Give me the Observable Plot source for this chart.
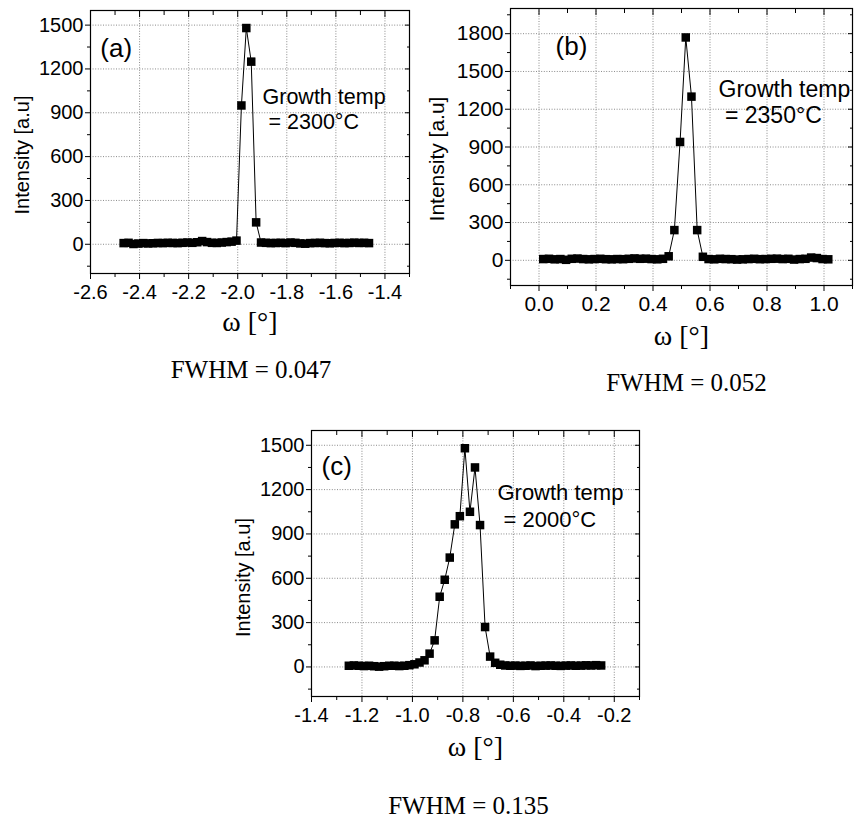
<!DOCTYPE html>
<html><head><meta charset="utf-8">
<script src="https://cdn.jsdelivr.net/npm/d3@7"></script>
<script src="https://cdn.jsdelivr.net/npm/@observablehq/plot@0.6"></script>
<style>
body{margin:0;background:#fff;}
#root{position:relative;width:854px;height:818px;overflow:hidden;background:#fff;}
.panel{position:absolute;}
</style></head><body><div id="root"></div>
<script>
// ---- Panel (a): growth temp 2300°C ----
const aOmega = [-2.465,-2.445,-2.425,-2.405,-2.385,-2.365,-2.345,-2.325,-2.305,-2.285,-2.265,-2.245,-2.225,-2.205,-2.185,-2.165,-2.145,-2.125,-2.105,-2.085,-2.065,-2.045,-2.025,-2.005,-1.985,-1.965,-1.945,-1.925,-1.905,-1.885,-1.865,-1.845,-1.825,-1.805,-1.785,-1.765,-1.745,-1.725,-1.705,-1.685,-1.665,-1.645,-1.625,-1.605,-1.585,-1.565,-1.545,-1.525,-1.505,-1.485,-1.465];
const aIntensity = [8,10,2,5,8,6,7,9,8,10,9,8,10,12,10,14,22,15,10,9,12,15,18,25,950,1480,1250,150,12,10,8,9,10,8,12,10,6,4,8,9,10,8,7,9,10,8,9,11,9,10,8];
// ---- Panel (b): growth temp 2350°C ----
const bOmega = [0.015,0.035,0.055,0.075,0.095,0.115,0.135,0.155,0.175,0.195,0.215,0.235,0.255,0.275,0.295,0.315,0.335,0.355,0.375,0.395,0.415,0.435,0.455,0.475,0.495,0.515,0.535,0.555,0.575,0.595,0.615,0.635,0.655,0.675,0.695,0.715,0.735,0.755,0.775,0.795,0.815,0.835,0.855,0.875,0.895,0.915,0.935,0.955,0.975,0.995,1.015];
const bIntensity = [10,12,8,10,4,12,14,10,8,10,12,9,8,10,9,12,15,12,13,10,8,12,32,240,940,1770,1300,240,28,10,8,12,10,9,6,8,10,12,9,10,12,13,10,12,6,10,12,22,18,10,8];
// ---- Panel (c): growth temp 2000°C ----
const cOmega = [-1.252,-1.232,-1.212,-1.192,-1.172,-1.152,-1.132,-1.112,-1.092,-1.072,-1.052,-1.032,-1.012,-0.992,-0.972,-0.952,-0.932,-0.912,-0.892,-0.872,-0.852,-0.832,-0.812,-0.792,-0.772,-0.752,-0.732,-0.712,-0.692,-0.672,-0.652,-0.632,-0.612,-0.592,-0.572,-0.552,-0.532,-0.512,-0.492,-0.472,-0.452,-0.432,-0.412,-0.392,-0.372,-0.352,-0.332,-0.312,-0.292,-0.272,-0.252];
const cIntensity = [8,10,8,6,8,5,2,5,8,8,6,8,12,18,30,45,90,180,475,590,740,965,1020,1480,1050,1350,960,270,70,28,15,10,8,9,7,8,10,6,8,9,10,8,7,9,10,8,9,11,10,12,10];

// ---- Ticks ----
const aXTicks = [-2.6,-2.4,-2.2,-2.0,-1.8,-1.6,-1.4];
const aXMinor = [-2.5,-2.3,-2.1,-1.9,-1.7,-1.5,-1.3];
const bXTicks = [0.0,0.2,0.4,0.6,0.8,1.0];
const bXMinor = [-0.1,0.1,0.3,0.5,0.7,0.9,1.1];
const cXTicks = [-1.4,-1.2,-1.0,-0.8,-0.6,-0.4,-0.2];
const cXMinor = [-1.3,-1.1,-0.9,-0.7,-0.5,-0.3,-0.1];
const acYTicks = [0,300,600,900,1200,1500];
const acYMinor = [-150,150,450,750,1050,1350];
const bYTicks = [0,300,600,900,1200,1500,1800];
const bYMinor = [-150,150,450,750,1050,1350,1650,1950];

// ---- Texts ----
const panelLabels = ["(a)","(b)","(c)"];
const growthLine = "Growth temp";
const tempLines = ["\u00a0= 2300°C","\u00a0= 2350°C","\u00a0= 2000°C"];
const fwhmTexts = ["FWHM = 0.047","FWHM = 0.052","FWHM = 0.135"];
const xTitle = "ω [°]";
const yTitle = "Intensity [a.u]";

const SANS = "'Liberation Sans', Arial, Helvetica, sans-serif";
const SERIF = "'Liberation Serif', 'Times New Roman', serif";

function panel(c) {
  const data = c.xs.map((x, i) => ({x, y: c.ys[i]}));
  const grid = {stroke: "#8a8a8a", strokeOpacity: 1, strokeWidth: 1, strokeDasharray: "1,1.6"};
  const fmtX = d => d.toFixed(1);
  const plot = Plot.plot({
    width: c.width, height: c.height,
    marginLeft: c.ml, marginRight: c.mr, marginTop: c.mt, marginBottom: c.mb,
    x: {domain: c.xDomain}, y: {domain: c.yDomain},
    style: {fontFamily: SANS, background: "white", color: "black", overflow: "visible"},
    marks: [
      Plot.gridX({ticks: c.xTicks, ...grid}),
      Plot.gridY({ticks: c.yTicks, ...grid}),
      Plot.line(data, {x: "x", y: "y", stroke: "black", strokeWidth: 1}),
      Plot.dot(data, {x: "x", y: "y", symbol: "square", r: 4.8, fill: "black", stroke: "none"}),
      Plot.frame({stroke: "black", strokeWidth: 1.2}),
      Plot.axisX({ticks: c.xTicks, tickSize: 6, tickPadding: 5, tickFormat: fmtX, fontSize: c.tickFont, label: null}),
      Plot.axisX({ticks: c.xMinor, tickSize: 4, tickFormat: () => "", label: null}),
      Plot.axisX({anchor: "top", ticks: c.xTicks, tickSize: 6, dy: 6, tickFormat: () => "", label: null}),
      Plot.axisX({anchor: "top", ticks: c.xMinor, tickSize: 4, dy: 4, tickFormat: () => "", label: null}),
      Plot.axisY({ticks: c.yTicks, tickSize: 5, tickPadding: 2, tickFormat: d => String(d), fontSize: c.tickFont, label: null}),
      Plot.axisY({ticks: c.yMinor, tickSize: 3, tickFormat: () => "", label: null}),
      Plot.axisY({anchor: "right", ticks: c.yTicks, tickSize: 5, dx: -5, tickFormat: () => "", label: null}),
      Plot.axisY({anchor: "right", ticks: c.yMinor, tickSize: 3, dx: -3, tickFormat: () => "", label: null}),
      Plot.text([c.label], {x: c.labelX, y: c.labelY, text: d => d, textAnchor: "start", lineAnchor: "bottom", fontSize: 26}),
      Plot.text([growthLine], {x: c.tempX, y: c.tempY1, text: d => d, textAnchor: "start", lineAnchor: "bottom", fontSize: c.annFont}),
      Plot.text([c.temp], {x: c.tempX, y: c.tempY2, text: d => d, textAnchor: "start", lineAnchor: "bottom", fontSize: c.annFont}),
      Plot.text([yTitle], {frameAnchor: "left", rotate: -90, dx: -c.yTitleDx, dy: c.yTitleDy, textAnchor: "middle", lineAnchor: "middle", text: d => d, fontSize: c.yTitleFont}),
      Plot.text([xTitle], {frameAnchor: "bottom", dy: c.xTitleDy, textAnchor: "middle", lineAnchor: "bottom", text: d => d, fontFamily: SERIF, fontSize: 28}),
      Plot.text([c.fwhm], {frameAnchor: "bottom", dx: c.fwhmDx, dy: c.fwhmDy, textAnchor: "middle", lineAnchor: "bottom", text: d => d, fontFamily: SERIF, fontSize: 25})
    ]
  });
  const div = document.createElement("div");
  div.className = "panel";
  div.style.left = c.left + "px";
  div.style.top = c.top + "px";
  div.appendChild(plot);
  document.getElementById("root").appendChild(div);
}

panel({
  xs: aOmega, ys: aIntensity, left: 0, top: 0, width: 420, height: 390,
  ml: 90, mr: 11, mt: 10, mb: 117,
  xDomain: [-2.6, -1.3], yDomain: [-200, 1600],
  xTicks: aXTicks, xMinor: aXMinor, yTicks: acYTicks, yMinor: acYMinor,
  tickFont: 20, annFont: 21.5, yTitleFont: 20,
  label: panelLabels[0], labelX: -2.560, labelY: 1284,
  temp: tempLines[0], tempX: -1.899, tempY1: 963, tempY2: 791,
  yTitleDx: 68, yTitleDy: 13, xTitleDy: 57, fwhm: fwhmTexts[0], fwhmDx: 1, fwhmDy: 104
});
panel({
  xs: bOmega, ys: bIntensity, left: 420, top: 0, width: 434, height: 400,
  ml: 90, mr: 2, mt: 8, mb: 115,
  xDomain: [-0.1, 1.1], yDomain: [-200, 2000],
  xTicks: bXTicks, xMinor: bXMinor, yTicks: bYTicks, yMinor: bYMinor,
  tickFont: 21, annFont: 23, yTitleFont: 21,
  label: panelLabels[1], labelX: 0.058, labelY: 1633,
  temp: tempLines[1], tempX: 0.630, tempY1: 1298, tempY2: 1089,
  yTitleDx: 73, yTitleDy: 12, xTitleDy: 59, fwhm: fwhmTexts[1], fwhmDx: 5, fwhmDy: 105
});
panel({
  xs: cOmega, ys: cIntensity, left: 230, top: 400, width: 420, height: 418,
  ml: 81, mr: 11, mt: 30, mb: 122,
  xDomain: [-1.4, -0.1], yDomain: [-200, 1600],
  xTicks: cXTicks, xMinor: cXMinor, yTicks: acYTicks, yMinor: acYMinor,
  tickFont: 20, annFont: 22, yTitleFont: 20,
  label: panelLabels[2], labelX: -1.360, labelY: 1299,
  temp: tempLines[2], tempX: -0.663, tempY1: 1128, tempY2: 945,
  yTitleDx: 68, yTitleDy: 14, xTitleDy: 59, fwhm: fwhmTexts[2], fwhmDx: -7, fwhmDy: 117
});
</script></body></html>
